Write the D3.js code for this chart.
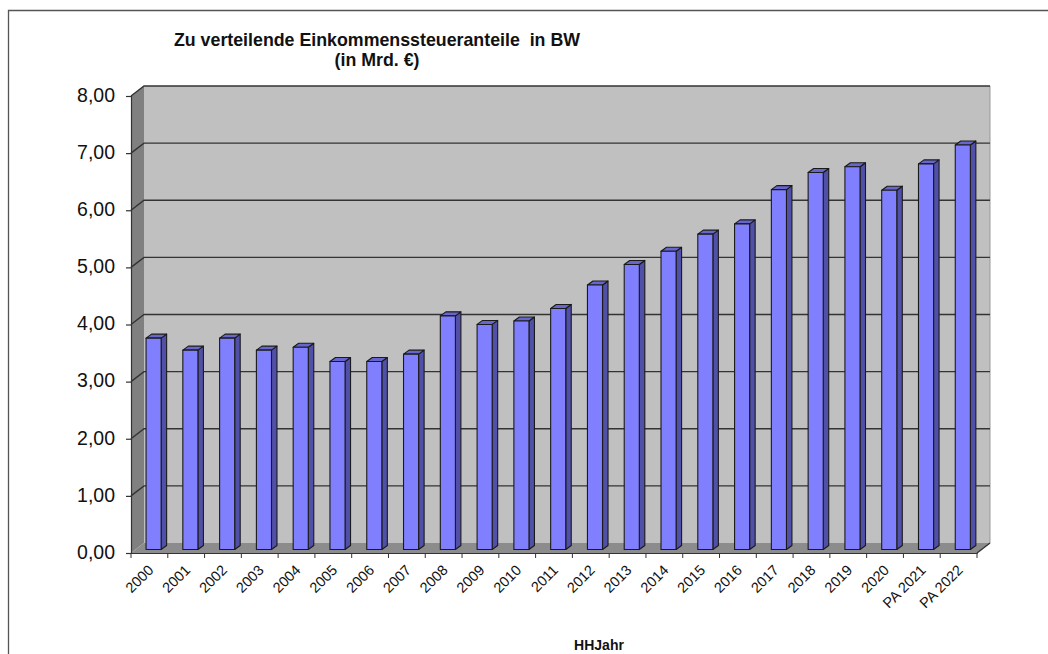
<!DOCTYPE html>
<html lang="en">
<head>
<meta charset="utf-8" />
<title>Zu verteilende Einkommenssteueranteile in BW</title>
<style>
html, body { margin: 0; padding: 0; background: #fff; overflow: hidden; }
svg { display: block; font-family: "Liberation Sans", Arial, sans-serif; }
.tick text { fill: #111; }
</style>
<script src="https://d3js.org/d3.v7.min.js"></script>
</head>
<body>
<svg width="1048" height="654"></svg>
<script>
var years = ["2000","2001","2002","2003","2004","2005","2006","2007","2008","2009","2010","2011",
  "2012","2013","2014","2015","2016","2017","2018","2019","2020","PA 2021","PA 2022"];
var values = [3.70,3.49,3.70,3.49,3.54,3.29,3.29,3.42,4.09,3.94,4.00,4.22,
  4.63,4.99,5.22,5.52,5.70,6.30,6.60,6.70,6.29,6.75,7.08];
var yTicks = [0,1,2,3,4,5,6,7,8];
var titleLines = ["Zu verteilende Einkommenssteueranteile  in BW", "(in Mrd. €)"];
var xTitle = "HHJahr";

var svg = d3.select("svg");

// chart wall offset, excel style fake 3d
var depthX = 13, depthY = 10;
var barDepthX = 5.5, barDepthY = 4;

var x = d3.scaleBand().domain(years).range([131, 977]).paddingInner(0.59).paddingOuter(0.295);
var y = d3.scaleLinear().domain([0, 8]).range([553, 96]);

// outer frame, only top and left are in the picture
svg.append("path")
  .attr("d", "M8.5,654V10.5H1048")
  .attr("fill", "none")
  .attr("stroke", "#555")
  .attr("stroke-width", 1.3);

var x0 = x.range()[0], x1 = x.range()[1];
var yb = y(0), yt = y(8);

// back wall
svg.append("rect")
  .attr("x", x0 + depthX).attr("y", yt - depthY)
  .attr("width", x1 - x0).attr("height", yb - yt)
  .attr("fill", "#c0c0c0");
// right edge of wall
svg.append("line")
  .attr("x1", x1 + depthX).attr("x2", x1 + depthX)
  .attr("y1", yt - depthY).attr("y2", yb - depthY)
  .attr("stroke", "#999").attr("stroke-width", 1);

// side wall
svg.append("path")
  .attr("d", "M" + x0 + "," + yb + "V" + yt + "L" + (x0 + depthX) + "," + (yt - depthY) +
    "V" + (yb - depthY) + "Z")
  .attr("fill", "#808080");

// floor
svg.append("path")
  .attr("d", "M" + x0 + "," + yb + "L" + (x0 + depthX) + "," + (yb - depthY) +
    "H" + (x1 + depthX) + "L" + x1 + "," + yb + "Z")
  .attr("fill", "#8c8c8c");

// gridlines on wall and side
var grid = svg.append("g").attr("fill", "none").attr("stroke", "#333").attr("stroke-width", 1.4);
yTicks.slice(1).forEach(function(t) {
  grid.append("path")
    .attr("d", "M" + x0 + "," + y(t) + "L" + (x0 + depthX) + "," + (y(t) - depthY) +
      "H" + (x1 + depthX));
});
// floor right edge and left corner
grid.append("path").attr("d", "M" + x1 + "," + yb + "L" + (x1 + depthX) + "," + (yb - depthY));

// bars
var barBase = yb - 3.5, barShift = 4.2;
var bars = svg.append("g").selectAll("g")
  .data(years.map(function(d, i) { return {year: d, value: values[i]}; }))
  .enter().append("g")
  .attr("stroke", "#1a1a1a").attr("stroke-width", 1.1).attr("stroke-linejoin", "round");

function bx(d) { return x(d.year) + barShift; }
function by(d) { return y(d.value) - 3.5; }

bars.append("path") // side
  .attr("fill", "#5050a8")
  .attr("d", function(d) {
    var r = bx(d) + x.bandwidth();
    return "M" + r + "," + by(d) + "l" + barDepthX + "," + (-barDepthY) +
      "V" + (barBase - barDepthY) + "L" + r + "," + barBase + "Z";
  });
bars.append("path") // top
  .attr("fill", "#6666cc")
  .attr("d", function(d) {
    return "M" + bx(d) + "," + by(d) + "l" + barDepthX + "," + (-barDepthY) +
      "h" + x.bandwidth() + "l" + (-barDepthX) + "," + barDepthY + "Z";
  });
bars.append("rect") // front
  .attr("fill", "#8080ff")
  .attr("x", bx)
  .attr("y", by)
  .attr("width", x.bandwidth())
  .attr("height", function(d) { return barBase - by(d); });

// axes
var yAxis = d3.axisLeft(y)
  .tickValues(yTicks)
  .tickSize(5)
  .tickPadding(11)
  .tickFormat(function(d) { return d3.format(".2f")(d).replace(".", ","); });
var gy = svg.append("g").attr("transform", "translate(" + x0 + ",0)").call(yAxis);
gy.selectAll("text").attr("font-size", 19.5).attr("y", -1);
gy.selectAll("line,path").attr("stroke", "#333").attr("stroke-width", 1.2);

var xAxis = d3.axisBottom(x).tickSize(0).tickPadding(0);
var gx = svg.append("g").attr("transform", "translate(0," + yb + ")").call(xAxis);
gx.select(".domain").attr("stroke", "#333").attr("stroke-width", 1.2);
gx.selectAll(".tick text")
  .attr("font-size", 14.5)
  .attr("text-anchor", "end")
  .attr("dy", null)
  .attr("y", 0)
  .attr("transform", "translate(5,18) rotate(-45)");

// tick marks sit between the categories
svg.append("g").selectAll("line")
  .data(d3.range(years.length + 1))
  .enter().append("line")
  .attr("x1", function(i) { return x0 + i * (x1 - x0) / years.length; })
  .attr("x2", function(i) { return x0 + i * (x1 - x0) / years.length; })
  .attr("y1", yb).attr("y2", yb + 5)
  .attr("stroke", "#333").attr("stroke-width", 1);

// titles
svg.append("g").selectAll("text")
  .data(titleLines)
  .enter().append("text")
  .attr("x", 377)
  .attr("y", function(d, i) { return 46 + i * 20; })
  .attr("text-anchor", "middle")
  .attr("font-size", 17.8)
  .attr("font-weight", "bold")
  .attr("fill", "#111")
  .style("white-space", "pre")
  .text(function(d) { return d; });

svg.append("text")
  .attr("x", 599).attr("y", 650)
  .attr("text-anchor", "middle")
  .attr("font-size", 14)
  .attr("font-weight", "bold")
  .attr("fill", "#111")
  .text(xTitle);
</script>
</body>
</html>
